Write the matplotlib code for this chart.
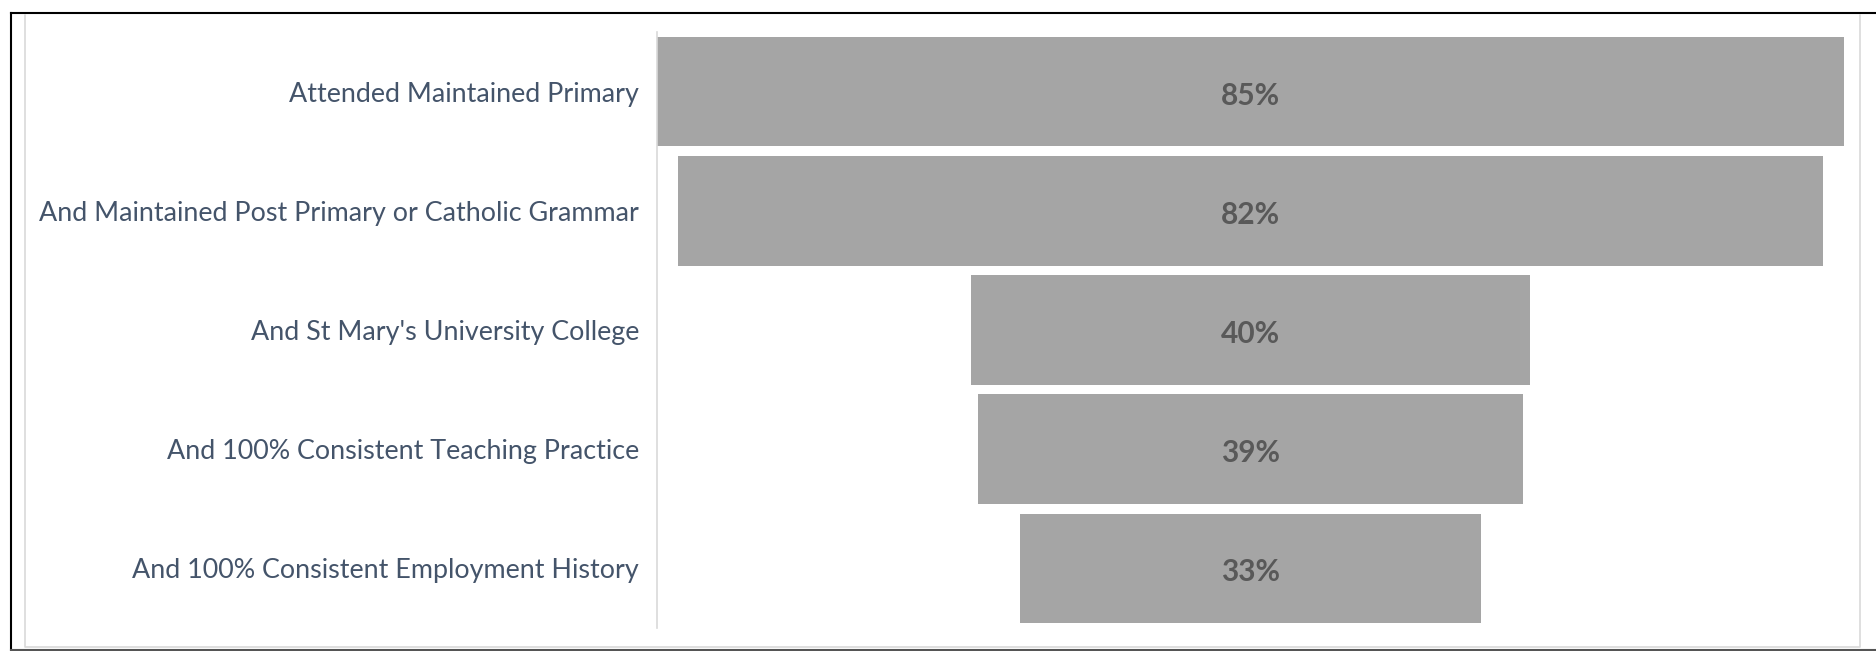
import matplotlib.pyplot as plt
from matplotlib.lines import Line2D
from matplotlib.transforms import ScaledTranslation

stages = [
    "Attended Maintained Primary",
    "And Maintained Post Primary or Catholic Grammar",
    "And St Mary's University College",
    "And 100% Consistent Teaching Practice",
    "And 100% Consistent Employment History",
]
values = [85, 82, 40, 39, 33]
value_labels = ["85%", "82%", "40%", "39%", "33%"]

W, H = 1876, 651
fig = plt.figure(figsize=(W / 100, H / 100), dpi=100)
fig.patch.set_facecolor("white")

# axes placed in pixel terms
ax = fig.add_axes([657 / W, 1 - 628 / H, (1844 - 657) / W, (628 - 32) / H])

ypos = list(range(len(stages)))
lefts = [-v / 2 for v in values]
ax.barh(ypos, values, left=lefts, height=0.92, color="#A5A5A5")

down = ScaledTranslation(0, -4 / 100, fig.dpi_scale_trans)
for y, lab in zip(ypos, value_labels):
    t = ax.text(0, y, lab, ha="center", va="center", fontsize=21.5,
                fontweight="bold", color="#595959", family="Lato")
    t.set_transform(t.get_transform() + down)

ax.set_xlim(-42.5, 42.5)
ax.set_ylim(len(stages) - 0.5, -0.5)
ax.set_yticks(ypos)
ax.set_yticklabels(stages, fontsize=19.4, color="#44546A", family="Lato")
for lbl in ax.get_yticklabels():
    lbl.set_transform(lbl.get_transform() + down)
ax.tick_params(axis="y", length=0, pad=13)
ax.set_xticks([])
for s in ["top", "right", "bottom"]:
    ax.spines[s].set_visible(False)
ax.spines["left"].set_color("#D9D9D9")
ax.spines["left"].set_linewidth(1.2)

# outer frame (black) and inner light frame
def px(x, y):
    return x / W, 1 - y / H

x0, y0 = px(11, 13)
x1, y1 = px(W, 13)
fig.add_artist(Line2D([x0, x1], [y0, y1], color="black", lw=1.5, transform=fig.transFigure))
fig.add_artist(Line2D([x0, x0], [y0, px(0, 650)[1]], color="black", lw=1.5, transform=fig.transFigure))
fig.add_artist(Line2D([x0, 1], [px(0, 650)[1]] * 2, color="#555555", lw=1.5, transform=fig.transFigure))

ix0, iy0 = px(25, 15)
ix1, iy1 = px(1860, 647)
fig.add_artist(Line2D([ix0, ix0, ix1, ix1], [iy0, iy1, iy1, iy0], color="#D9D9D9",
                      lw=1.2, transform=fig.transFigure))

fig.savefig("out.png", dpi=100, facecolor="white")
